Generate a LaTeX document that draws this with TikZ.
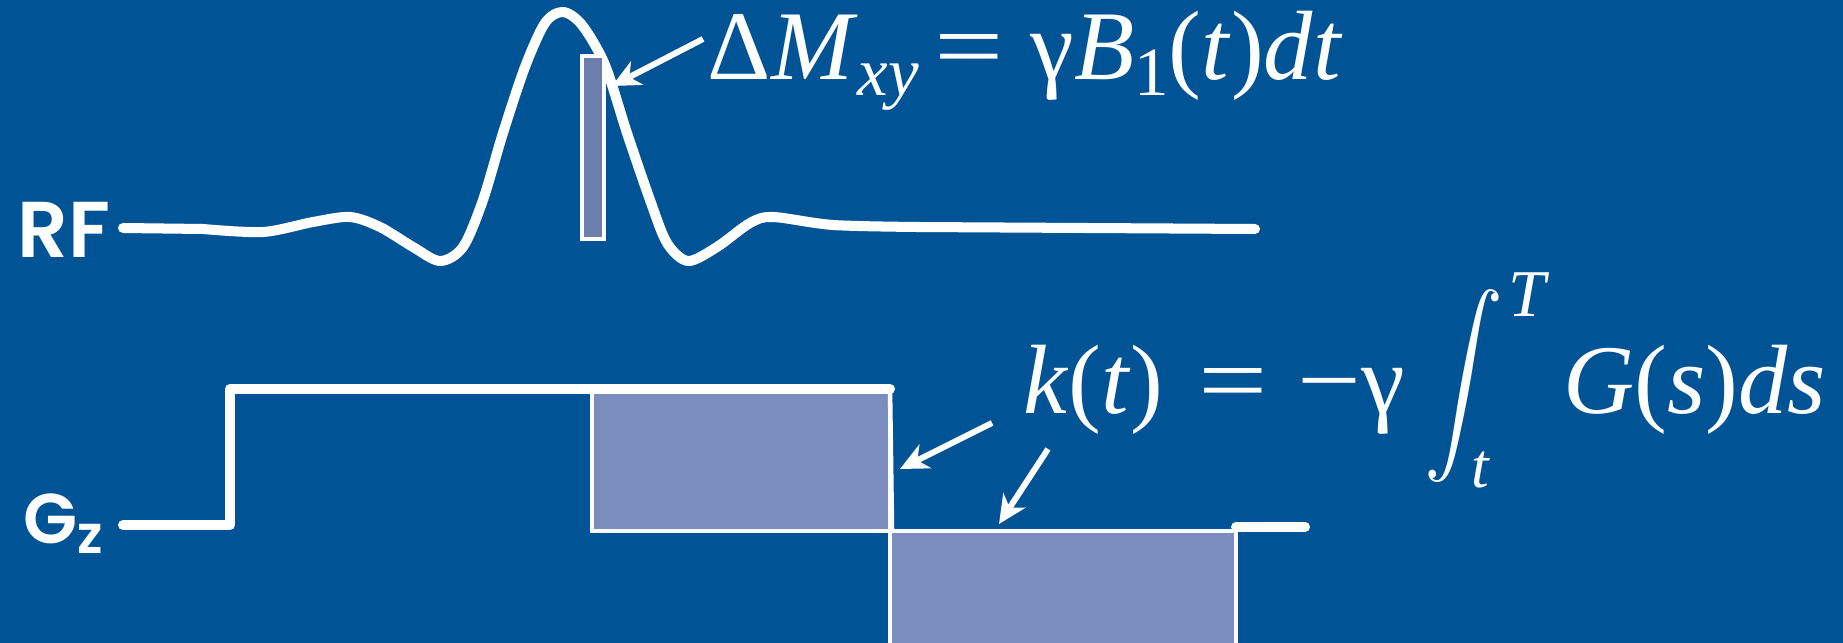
\documentclass[tikz,border=0pt]{standalone}
\usepackage{amsmath}
\usepackage{graphicx}
\usepackage{fontspec}
\setmainfont{Liberation Serif}
\newfontfamily\labelfont{Poppins SemiBold}
\usetikzlibrary{arrows.meta}

\definecolor{slidebg}{RGB}{0,84,150}
\definecolor{areafill}{RGB}{122,141,190}
\definecolor{slicefill}{RGB}{108,126,172}

% formula pieces
\newcommand{\ti}[1]{\textit{#1}}
\newcommand{\lowix}[1]{\raisebox{-4.3pt}{\fontsize{19.6}{22}\selectfont #1}}
\newcommand{\eqsign}{\scalebox{1.25}[1]{=}}
\newcommand{\bigint}{\raisebox{-19.9pt}{\resizebox*{22.5pt}{54.9pt}{\raisebox{\depth}{$\displaystyle\int$}}}}

\tikzset{
  wave/.style={white, line width=2.85pt, line cap=round, line join=round},
  area/.style={draw=white, fill=areafill, line width=1.3pt},
  pointer/.style={white, line width=1.7pt, -{Stealth[length=8pt, width=7.5pt, inset=2.5pt]}},
  eqn/.style={white, inner sep=0pt, font=\fontsize{28}{34}\selectfont},
  chan/.style={white, inner sep=0pt, font=\labelfont\fontsize{22.5}{26}\selectfont}
}

\begin{document}
\begin{tikzpicture}[x=0.01cm, y=-0.01cm]
        % Background
        \fill[slidebg] (0,0) rectangle (1843,643);
        \useasboundingbox (0,0) rectangle (1843,643);
        \clip (0,0) rectangle (1843,643);
        
        % Gradient areas
        \draw[area] (592,389) rectangle (890,531);
        \draw[area] (890,531) rectangle (1236,680);
        
        % Gz waveform
        \draw[wave] (123,525) -- (230,525) -- (230,389) -- (890,389);
        \draw[white, line width=1.3pt] (890,389) -- (892,531);
        \draw[wave] (1236,527) -- (1305,527);
        
        % RF pulse
        \draw[wave] (123,228) -- (203,229)
          plot[smooth] coordinates {(203,229) (263,232) (313,222) (350,217) (380,227)
             (413,247) (440,261) (463,247) (483,200) (503,133) (525,67) (545,23) (563,12)
             (582,25) (605,65) (627,133) (650,200) (667,243) (688,261) (717,247) (750,223)
             (773,217) (833,225) (917,227)}
          -- (1255,229);
        \draw[white, fill=slicefill, line width=1.3pt] (582,56) rectangle (604,239);
        
        % Labels
        \node[chan, anchor=base west] (rf) at (17,258) {RF};
        \node[chan, anchor=base west, font=\labelfont\fontsize{20}{24}\selectfont] (gz) at (23,543)
          {G\raisebox{-2.85pt}{\fontsize{15}{18}\selectfont z}};
        
        % Formulas
        \node[eqn, anchor=base west] (dmxy) at (707,80)
          {Δ\ti{M}\lowix{\ti{xy}}\hspace{4.5pt}\eqsign\hspace{7.6pt}γ\ti{B}\lowix{1}(\ti{t})\ti{dt}};
        \node[eqn, anchor=base west] (kt) at (1023,413)
          {\ti{k}(\ti{t})\hspace{10pt}\eqsign\hspace{8.4pt}\scalebox{1.15}[1]{−}γ\hspace{5.4pt}%
           \bigint%
           \llap{\raisebox{-21.3pt}{\fontsize{18}{22}\selectfont\ti{t}}\hspace{3.7pt}}%
           \rlap{\hspace{1.4pt}\raisebox{27.3pt}{\fontsize{19}{22}\selectfont\ti{T}}}%
           \hspace{17pt}\ti{G}(\ti{s})\ti{ds}};
        
        % Pointers
        \coordinate (slicetail) at (703,39);
        \coordinate (slicetip) at (612,86);
        \coordinate (edgetail) at (992,423);
        \coordinate (edgetip) at (900,469);
        \coordinate (lobetail) at (1048,449);
        \coordinate (lobetip) at (999,524);
        \draw[pointer] (slicetail) -- (slicetip);
        \draw[pointer] (edgetail) -- (edgetip);
        \draw[pointer] (lobetail) -- (lobetip);
    \end{tikzpicture}
\end{document}
